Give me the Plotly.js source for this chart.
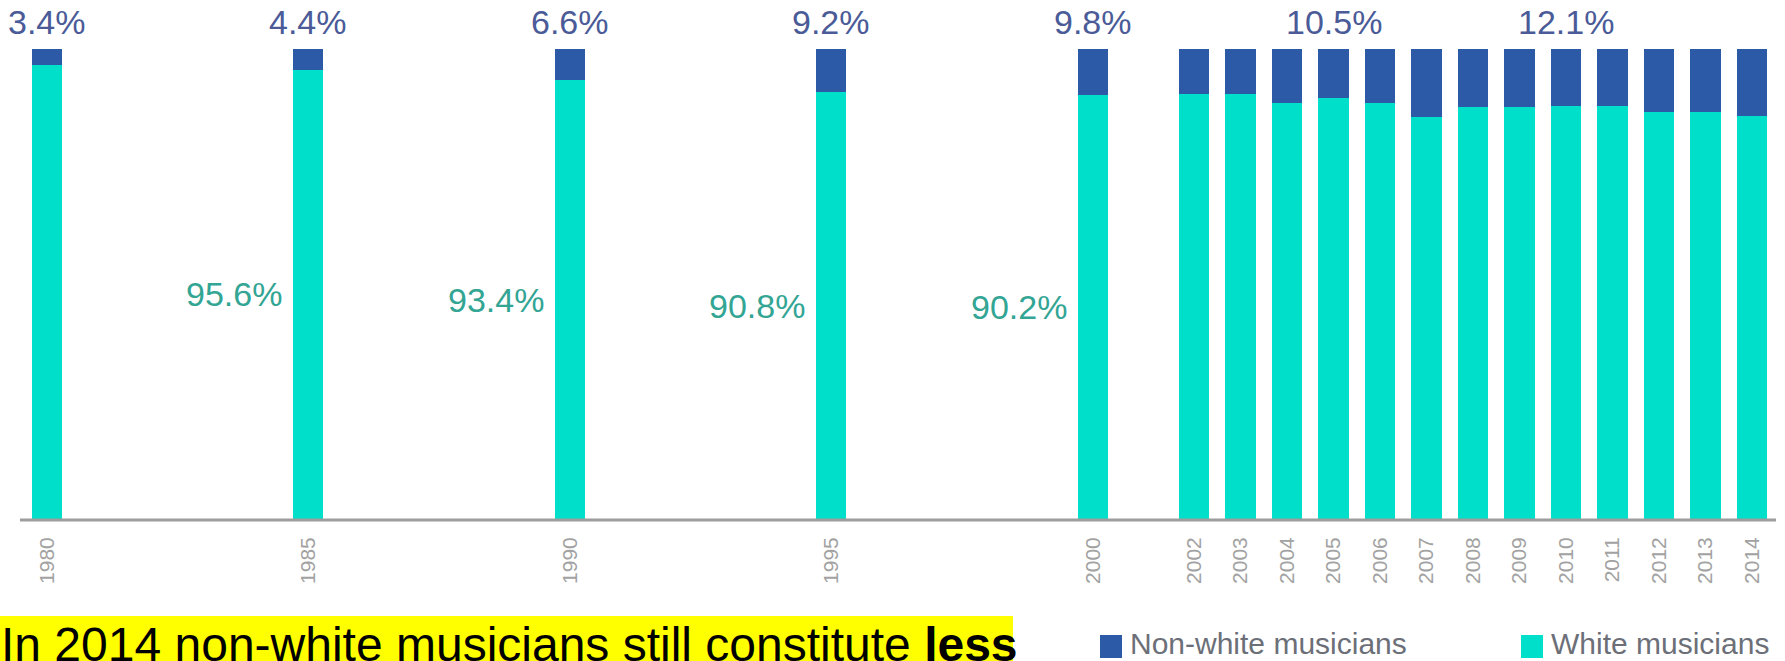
<!DOCTYPE html>
<html>
<head>
<meta charset="utf-8">
<script src="https://cdn.plot.ly/plotly-3.0.1.min.js"></script>
<style>html,body{margin:0;padding:0;background:#fff;}#chart{width:1785px;height:661px;}</style>
</head>
<body>
<div id="chart"></div>
<script>
// ---- data ----
const years = [1980, 1985, 1990, 1995, 2000, 2002, 2003, 2004, 2005, 2006, 2007, 2008, 2009, 2010, 2011, 2012, 2013, 2014];
const nonWhite = [3.4, 4.4, 6.6, 9.2, 9.8, 9.6, 9.6, 11.5, 10.5, 11.5, 14.5, 12.4, 12.4, 12.1, 12.2, 13.3, 13.3, 14.2];
const white = [96.6, 95.6, 93.4, 90.8, 90.2, 90.4, 90.4, 88.5, 89.5, 88.5, 85.5, 87.6, 87.6, 87.9, 87.8, 86.7, 86.7, 85.8];
const tickLabels = ['1980', '1985', '1990', '1995', '2000', '2002', '2003', '2004', '2005', '2006', '2007', '2008', '2009', '2010', '2011', '2012', '2013', '2014'];
const seriesNames = ['Non-white musicians', 'White musicians'];
const topLabelYears = [1980, 1985, 1990, 1995, 2000, 2005, 2010];
const midLabelYears = [1985, 1990, 1995, 2000];
const noteText = 'In 2014 non-white musicians still constitute <b>less</b>';

// ---- styling ----
const W = 1785, H = 661;
const px = x => x / W;
const py = y => 1 - y / H;
const cNon = '#2c5aa7';
const cWhite = '#00dfc9';
const font = 'Liberation Sans, Arial, sans-serif';

const early = years.map((y, i) => i).filter(i => years[i] <= 2000);
const late = years.map((y, i) => i).filter(i => years[i] > 2000);
const pick = (arr, idx) => idx.map(i => arr[i]);

function barTrace(vals, idx, name, color, xa, width) {
  return {
    type: 'bar', x: pick(years, idx), y: pick(vals, idx), name: name,
    marker: {color: color, line: {width: 0}}, xaxis: xa, yaxis: 'y',
    width: width, showlegend: false, hoverinfo: 'skip'
  };
}
const w1 = 0.58, w2 = 0.65;
const traces = [
  barTrace(white, early, seriesNames[1], cWhite, 'x', w1),
  barTrace(nonWhite, early, seriesNames[0], cNon, 'x', w1),
  barTrace(white, late, seriesNames[1], cWhite, 'x2', w2),
  barTrace(nonWhite, late, seriesNames[0], cNon, 'x2', w2)
];

const annotations = [];
topLabelYears.forEach(yr => {
  const i = years.indexOf(yr);
  annotations.push({
    xref: yr <= 2000 ? 'x' : 'x2', yref: 'y', x: yr, y: 100,
    text: nonWhite[i].toFixed(1) + '%', showarrow: false,
    yanchor: 'middle', yshift: 27,
    font: {family: font, size: 34, color: '#4a5b98'}
  });
});
midLabelYears.forEach(yr => {
  const i = years.indexOf(yr);
  annotations.push({
    xref: 'x', yref: 'y', x: yr, y: white[i] / 2,
    text: white[i].toFixed(1) + '%', showarrow: false,
    xanchor: 'right', xshift: -24, yanchor: 'middle',
    font: {family: font, size: 34, color: '#33a594'}
  });
});
// legend (custom)
const legendItems = [
  {name: seriesNames[0], color: cNon, sx: 1100, tx: 1128},
  {name: seriesNames[1], color: cWhite, sx: 1521, tx: 1549}
];
const shapes = [
  {type: 'rect', xref: 'paper', yref: 'paper', x0: 0, x1: px(1013), y0: -0.2, y1: py(616),
   fillcolor: '#ffff00', line: {width: 0}, layer: 'below'},
  {type: 'line', xref: 'paper', yref: 'paper', x0: px(20), x1: px(1776), y0: py(520), y1: py(520),
   line: {color: '#9d9d9d', width: 3}, layer: 'above'}
];
legendItems.forEach(it => {
  shapes.push({type: 'rect', xref: 'paper', yref: 'paper', x0: px(it.sx), x1: px(it.sx + 22),
    y0: py(658), y1: py(635), fillcolor: it.color, line: {width: 0}});
  annotations.push({xref: 'paper', yref: 'paper', x: px(it.tx), y: py(643), xanchor: 'left', yanchor: 'middle',
    text: it.name, showarrow: false, font: {family: font, size: 30, color: '#6c6f78'}});
});
annotations.push({xref: 'paper', yref: 'paper', x: 0, y: py(617), xanchor: 'left', yanchor: 'top',
  text: noteText, showarrow: false, borderpad: 0, font: {family: font, size: 48, color: '#000000'}});

// axis geometry
const x1px = [10, 1130], x2px = [1140, 1785];
const c1980 = 46.7, ppy1 = 52.3, c2002 = 1194, ppy2 = 46.5;
const r1 = [1980 - (c1980 - x1px[0]) / ppy1, 1980 + (x1px[1] - c1980) / ppy1];
const r2 = [2002 - (c2002 - x2px[0]) / ppy2, 2002 + (x2px[1] - c2002) / ppy2];

const axisCommon = {
  showgrid: false, zeroline: false, showline: false, ticks: '',
  tickangle: -90, tickfont: {family: font, size: 21, color: '#a2a2a2'},
  ticklabelstandoff: 13, fixedrange: true, anchor: 'y'
};
const e = pick(years, early), l = pick(years, late);
const layout = {
  width: W, height: H, margin: {l: 0, r: 0, t: 0, b: 0},
  paper_bgcolor: '#ffffff', plot_bgcolor: '#ffffff',
  barmode: 'stack', showlegend: false,
  xaxis: Object.assign({}, axisCommon, {domain: [px(x1px[0]), px(x1px[1])], range: r1,
    tickmode: 'array', tickvals: e, ticktext: pick(tickLabels, early)}),
  xaxis2: Object.assign({}, axisCommon, {domain: [px(x2px[0]), px(x2px[1])], range: r2,
    tickmode: 'array', tickvals: l, ticktext: pick(tickLabels, late)}),
  yaxis: {domain: [py(519), py(49)], range: [0, 100], visible: false, fixedrange: true},
  annotations: annotations, shapes: shapes
};
Plotly.newPlot('chart', traces, layout, {displayModeBar: false, staticPlot: true});
</script>
</body>
</html>
